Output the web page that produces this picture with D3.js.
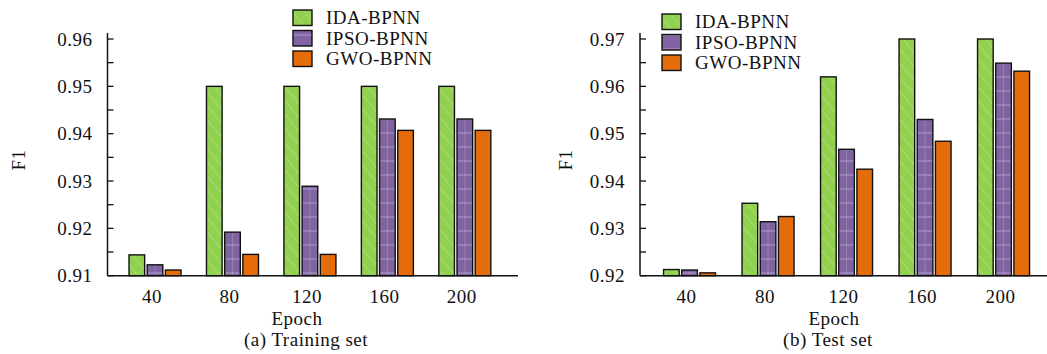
<!DOCTYPE html>
<html><head><meta charset="utf-8">
<script src="https://cdn.jsdelivr.net/npm/d3@7"></script>
<style>
body{margin:0;background:#fff;}
svg text{font-family:"Times New Roman","Liberation Serif",serif;font-size:19px;fill:#111;letter-spacing:0.5px;}
</style></head><body>
<svg id="c" width="1047" height="354"></svg>
<script>
const epochs = ["40","80","120","160","200"];
const series = ["IDA-BPNN","IPSO-BPNN","GWO-BPNN"];
const colors = ["#92d050","#8064a2","#e46c0a"];
// Training set
const trainIDA  = [0.9144,0.9500,0.9500,0.9500,0.9500];
const trainIPSO = [0.9123,0.9192,0.9289,0.9431,0.9431];
const trainGWO  = [0.9112,0.9145,0.9145,0.9407,0.9407];
// Test set
const testIDA  = [0.9213,0.9353,0.9620,0.9700,0.9700];
const testIPSO = [0.9212,0.9314,0.9467,0.9530,0.9649];
const testGWO  = [0.9206,0.9325,0.9425,0.9484,0.9632];
const trainTicks = [0.91,0.92,0.93,0.94,0.95,0.96];
const testTicks  = [0.92,0.93,0.94,0.95,0.96,0.97];

const svg = d3.select("#c");
const defs = svg.append("defs");
const pg = defs.append("pattern").attr("id","pg").attr("patternUnits","userSpaceOnUse")
  .attr("width",9).attr("height",9).attr("patternTransform","rotate(-40)");
pg.append("rect").attr("width",9).attr("height",9).attr("fill",colors[0]);
pg.append("line").attr("x1",0).attr("y1",0).attr("x2",0).attr("y2",9).attr("stroke","#fff").attr("stroke-opacity",0.35).attr("stroke-width",1.2);
const pp = defs.append("pattern").attr("id","pp").attr("patternUnits","userSpaceOnUse")
  .attr("width",18).attr("height",14);
pp.append("rect").attr("width",18).attr("height",14).attr("fill",colors[1]);
pp.append("line").attr("x1",0).attr("y1",7).attr("x2",18).attr("y2",7).attr("stroke","#fff").attr("stroke-opacity",0.3).attr("stroke-width",1.2);
const fills = ["url(#pg)","url(#pp)",colors[2]];

function panel(o){
  const g = svg.append("g");
  const y = d3.scaleLinear().domain([o.ticks[0], o.ticks[o.ticks.length-1]]).range([275.7,39]);
  const x0 = d3.scaleBand().domain(epochs).range([o.ax+o.bandStart, o.ax+o.bandStart+5*o.step]);
  const x1 = d3.scaleBand().domain(series).range([0,52]).paddingInner(0.14);
  const data = [o.a,o.b,o.c];
  epochs.forEach((e,i)=>{
    series.forEach((s,j)=>{
      const v = data[j][i];
      const bx = x0(e)+x0.bandwidth()/2-26+x1(s);
      g.append("rect").attr("x",bx).attr("y",y(v)).attr("width",x1.bandwidth())
        .attr("height",y(o.ticks[0])-y(v)).attr("fill",fills[j])
        .attr("stroke","#111").attr("stroke-width",1.4);
      if(j===1){
        g.append("line").attr("x1",bx+x1.bandwidth()/2).attr("x2",bx+x1.bandwidth()/2)
          .attr("y1",y(v)+1).attr("y2",y(o.ticks[0])-1).attr("stroke","#fff").attr("stroke-opacity",0.18).attr("stroke-width",1);
      }
    });
  });
  const minor = d3.range(0,o.ticks.length-1).map(i=>(o.ticks[i]+o.ticks[i+1])/2);
  g.append("line").attr("x1",o.ax).attr("x2",o.ax).attr("y1",33).attr("y2",y(o.ticks[0])).attr("stroke","#111").attr("stroke-width",1.5);
  o.ticks.concat(minor).forEach(t=>{
    g.append("line").attr("x1",o.ax).attr("x2",o.ax+6).attr("y1",y(t)).attr("y2",y(t)).attr("stroke","#111").attr("stroke-width",1.3);
  });
  o.ticks.forEach(t=>{
    g.append("text").attr("x",o.ax-15).attr("y",y(t)).attr("dy","0.35em").attr("text-anchor","end").text(d3.format(".2f")(t));
  });
  g.append("line").attr("x1",o.ax).attr("x2",o.axEnd).attr("y1",y(o.ticks[0])).attr("y2",y(o.ticks[0])).attr("stroke","#111").attr("stroke-width",1.5);
  epochs.forEach(e=>{
    g.append("text").attr("x",x0(e)+x0.bandwidth()/2-3).attr("y",303).attr("text-anchor","middle").text(e);
  });
  g.append("text").attr("x",o.epochX).attr("y",325).attr("text-anchor","middle").text("Epoch");
  g.append("text").attr("x",o.titleX).attr("y",346).attr("text-anchor","middle").text(o.title);
  g.append("text").attr("transform",`translate(${o.f1x},160) rotate(-90)`).attr("text-anchor","middle").attr("dy","0.35em").text("F1");
  series.forEach((s,j)=>{
    g.append("rect").attr("x",o.lx).attr("y",o.ly+j*20.5).attr("width",19).attr("height",15.5)
      .attr("fill",fills[j]).attr("stroke","#111").attr("stroke-width",1.4);
    g.append("text").attr("x",o.lx+33).attr("y",o.ly+14+j*20.5).text(s);
  });
}
panel({ax:107.5,axEnd:518,bandStart:8.8,step:77.45,ticks:trainTicks,a:trainIDA,b:trainIPSO,c:trainGWO,
  title:"(a) Training set",epochX:297,titleX:306,f1x:18,lx:293,ly:10});
panel({ax:640,axEnd:1047,bandStart:10.3,step:78.5,ticks:testTicks,a:testIDA,b:testIPSO,c:testGWO,
  title:"(b) Test set",epochX:834,titleX:828,f1x:565,lx:662,ly:14});
</script></body></html>
